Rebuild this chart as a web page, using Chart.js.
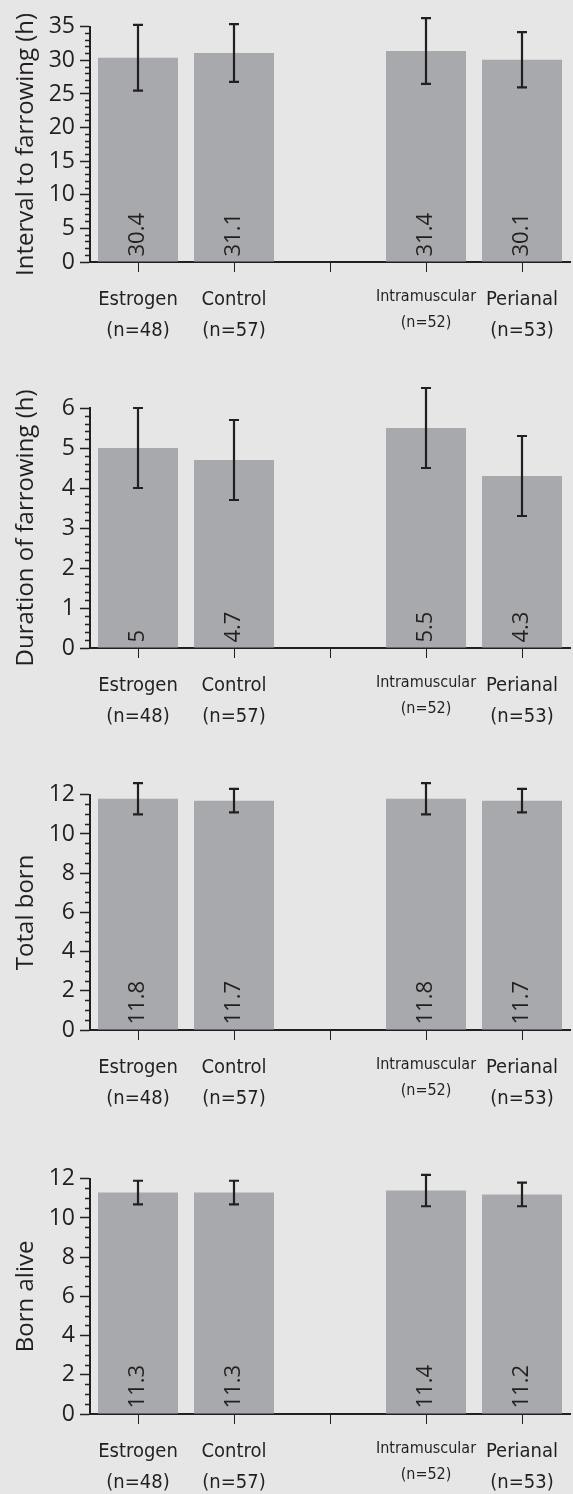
<!DOCTYPE html>
<html>
<head>
<meta charset="utf-8">
<script src="https://cdn.jsdelivr.net/npm/chart.js@4"></script>
<style>
    body { margin: 0; background: #e6e6e6; overflow: hidden; }
    .panel { position: absolute; left: 0; }
</style>
</head>
<body>
<canvas class="panel" id="chartInterval" width="573" height="332" style="top:8px"></canvas>
<canvas class="panel" id="chartDuration" width="573" height="348" style="top:378px"></canvas>
<canvas class="panel" id="chartTotal" width="573" height="332" style="top:776px"></canvas>
<canvas class="panel" id="chartAlive" width="573" height="332" style="top:1160px"></canvas>
<script>
//============================================= Data =============================================//
const groups = [['Estrogen', '(n=48)'], ['Control', '(n=57)'], '', ['Intramuscular', '(n=52)'], ['Perianal', '(n=53)']];

const intervalMeans = [30.4, 31.1, null, 31.4, 30.1];
const intervalErrors = [4.9, 4.3, null, 4.9, 4.1];

const durationMeans = [5, 4.7, null, 5.5, 4.3];
const durationErrors = [1, 1, null, 1, 1];

const totalMeans = [11.8, 11.7, null, 11.8, 11.7];
const totalErrors = [0.8, 0.6, null, 0.8, 0.6];

const aliveMeans = [11.3, 11.3, null, 11.4, 11.2];
const aliveErrors = [0.6, 0.6, null, 0.8, 0.6];

//============================================= Plugins =============================================//
const ink = '#231f20';

const errorBars = {
    id: 'errorBars',
    afterDatasetsDraw(chart) {
        const {ctx, scales: {y}} = chart;
        const ds = chart.data.datasets[0];
        ctx.save();
        ctx.strokeStyle = ink;
        ctx.lineWidth = 2.2;
        chart.getDatasetMeta(0).data.forEach((bar, i) => {
            const v = ds.data[i];
            const e = ds.errors[i];
            if (v == null || e == null) return;
            const top = y.getPixelForValue(v + e);
            const bot = y.getPixelForValue(v - e);
            ctx.beginPath();
            ctx.moveTo(bar.x, top);
            ctx.lineTo(bar.x, bot);
            ctx.moveTo(bar.x - 5, top);
            ctx.lineTo(bar.x + 5, top);
            ctx.moveTo(bar.x - 5, bot);
            ctx.lineTo(bar.x + 5, bot);
            ctx.stroke();
        });
        ctx.restore();
    }
};

const barValues = {
    id: 'barValues',
    afterDatasetsDraw(chart) {
        const {ctx} = chart;
        const ds = chart.data.datasets[0];
        chart.getDatasetMeta(0).data.forEach((bar, i) => {
            const v = ds.data[i];
            if (v == null) return;
            ctx.save();
            ctx.translate(bar.x, bar.base - 5);
            ctx.rotate(-Math.PI / 2);
            ctx.font = '22px "Open Sans"';
            ctx.fillStyle = ink;
            ctx.textAlign = 'left';
            ctx.textBaseline = 'middle';
            ctx.fillText(String(v), 0, 0);
            ctx.restore();
        });
    }
};

//============================================= Charts =============================================//
const narrow = '"Liberation Sans Narrow", "DejaVu Sans Condensed", sans-serif';

function makeConfig(means, errors, title, max, major, minor, padTop) {
    const isMajor = v => Math.abs(v / major - Math.round(v / major)) < 1e-6;
    return {
        type: 'bar',
        data: {
            labels: groups,
            datasets: [{
                data: means,
                errors: errors,
                backgroundColor: '#a7a9ac',
                barPercentage: 0.8333,
                categoryPercentage: 1
            }]
        },
        options: {
            responsive: false,
            animation: false,
            layout: {padding: {top: padTop, right: 3, left: 0, bottom: 0}},
            plugins: {
                legend: {display: false},
                tooltip: {enabled: false}
            },
            scales: {
                x: {
                    border: {color: ink, width: 2},
                    grid: {
                        offset: false,
                        drawOnChartArea: false,
                        tickLength: 10,
                        tickColor: ink,
                        tickWidth: 1
                    },
                    ticks: {
                        autoSkip: false,
                        maxRotation: 0,
                        padding: 12,
                        color: ink,
                        font: ctx => ctx.index === 3
                            ? {family: narrow, size: 16, lineHeight: '26px'}
                            : {family: narrow, size: 20, lineHeight: '31px'}
                    },
                    afterFit: s => { s.height = 78; }
                },
                y: {
                    min: 0,
                    max: max,
                    border: {color: ink, width: 2},
                    grid: {
                        drawOnChartArea: false,
                        tickLength: 10,
                        tickColor: ink,
                        tickWidth: 1.5,
                        tickBorderDash: ctx => isMajor(ctx.tick.value) ? [] : [0, 5, 5, 0]
                    },
                    ticks: {
                        stepSize: minor,
                        autoSkip: false,
                        padding: 5,
                        color: ink,
                        font: {family: '"Open Sans"', size: 23},
                        callback: v => isMajor(v) ? v : ''
                    },
                    title: {
                        display: true,
                        text: title,
                        color: ink,
                        font: {family: '"Open Sans"', size: 24},
                        padding: {top: 12, bottom: 0}
                    },
                    afterFit: s => { s.width = 90; }
                }
            }
        },
        plugins: [barValues, errorBars]
    };
}

new Chart(document.getElementById('chartInterval'),
    makeConfig(intervalMeans, intervalErrors, 'Interval to farrowing (h)', 35, 5, 1, 14));
new Chart(document.getElementById('chartDuration'),
    makeConfig(durationMeans, durationErrors, 'Duration of farrowing (h)', 6, 1, 0.2, 30));
new Chart(document.getElementById('chartTotal'),
    makeConfig(totalMeans, totalErrors, 'Total born', 12, 2, 0.5, 14));
new Chart(document.getElementById('chartAlive'),
    makeConfig(aliveMeans, aliveErrors, 'Born alive', 12, 2, 0.5, 14));
</script>
</body>
</html>
